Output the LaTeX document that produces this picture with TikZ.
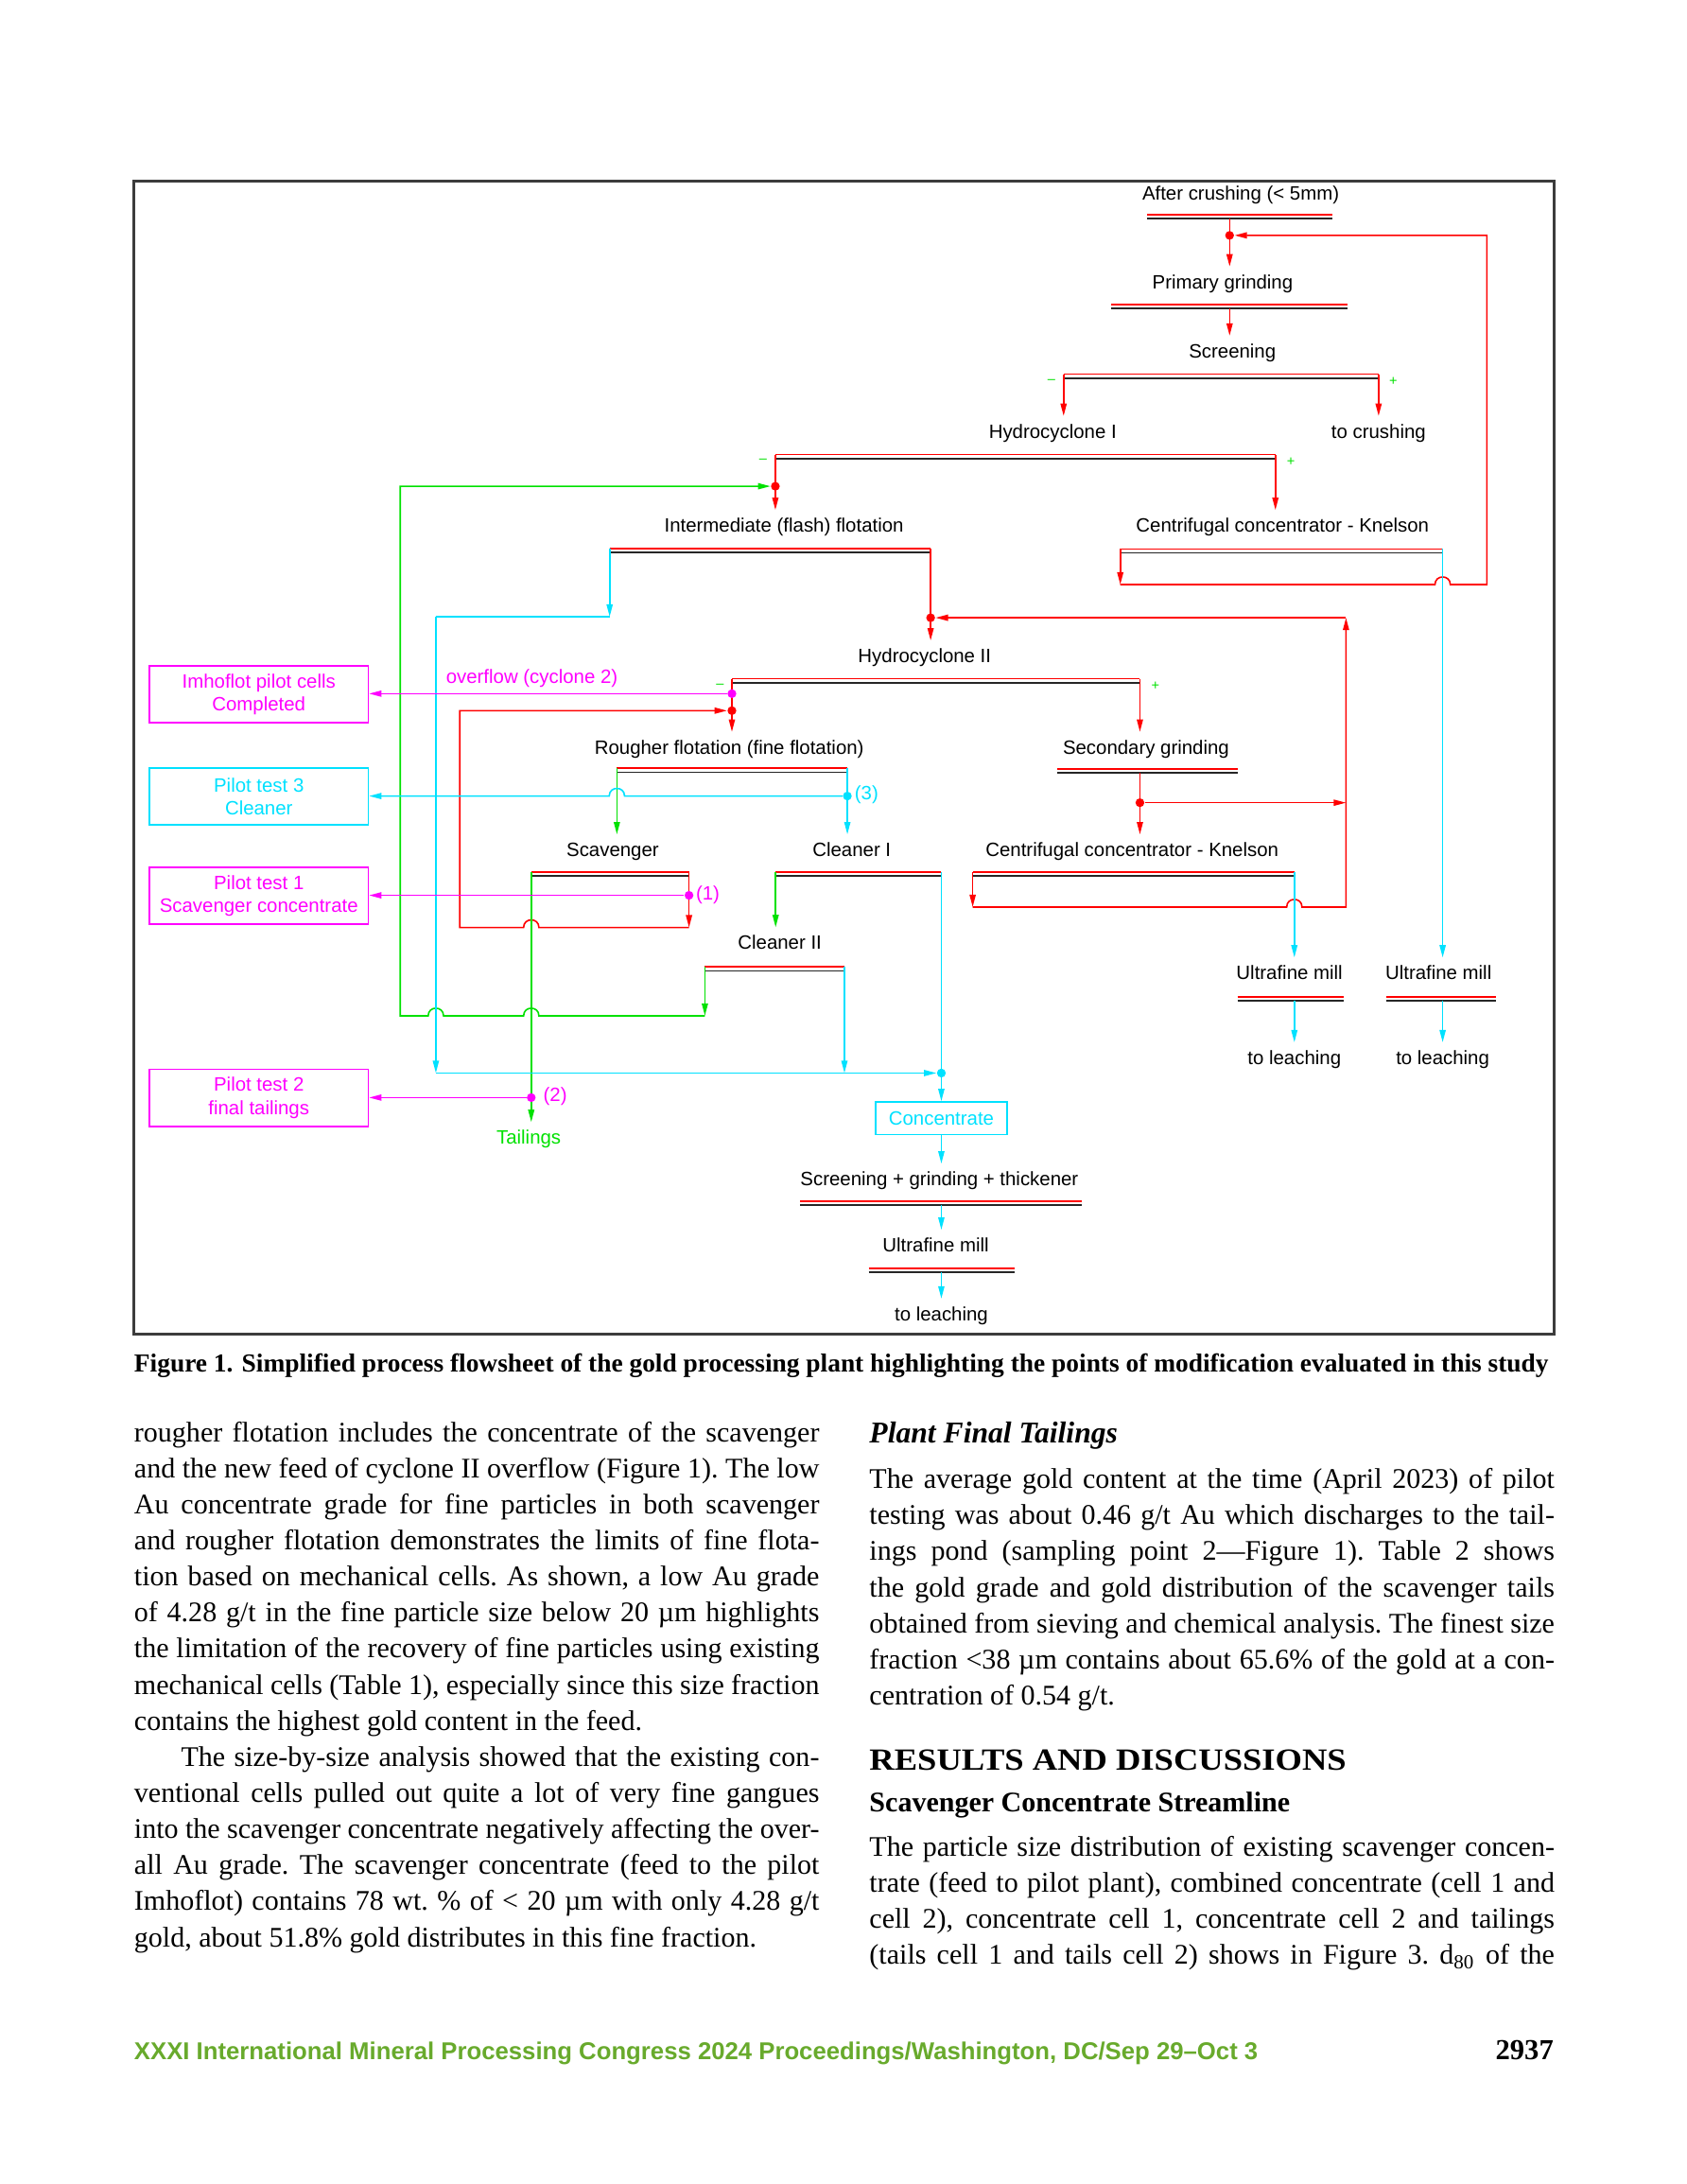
\documentclass[tikz,border=0pt]{standalone}
\usepackage{fontspec}
\usepackage{graphicx}
\setmainfont{Liberation Serif}
\newfontfamily\diafont{Liberation Sans}
\usetikzlibrary{arrows.meta,calc}
\definecolor{flred}{RGB}{255,0,0}
\definecolor{flgreen}{RGB}{0,225,0}
\definecolor{flcyan}{RGB}{0,225,255}
\definecolor{flmag}{RGB}{255,0,255}
\definecolor{footgreen}{RGB}{104,170,44}
\definecolor{framegray}{RGB}{60,60,60}

% double bar under a unit: name, x left, x right, y of the red line
\newcommand\flbar[4]{%
  \draw[barred] (#2,#4) -- (#3,#4);
  \draw[barblk] (#2,#4+2.8) -- (#3,#4+2.8);
  \coordinate (#1-l) at (#2,#4);
  \coordinate (#1-r) at (#3,#4);}

\begin{document}
\begin{tikzpicture}[
    x=0.5051pt, y=-0.5051pt,
    every node/.style={inner sep=0pt},
    lbl/.style={font=\diafont\fontsize{7}{8}\selectfont, text=#1, text height=5pt, text depth=1.5pt, inner sep=2.8pt},
    lbl/.default=black,
    pbox/.style={draw=#1, text=#1, line width=0.6pt, minimum width=79.35pt, minimum height=20.66pt, align=center, font=\diafont\fontsize{7}{8.3}\selectfont},
    sgn/.style={font=\diafont\fontsize{5}{5}\selectfont, text=flgreen},
    barred/.style={flred, line width=0.6pt},
    barblk/.style={black!85, line width=0.6pt},
    rl/.style={flred, line width=0.55pt},
    gl/.style={flgreen, line width=0.55pt},
    cl/.style={flcyan, line width=0.55pt},
    ml/.style={flmag, line width=0.55pt},
    arr/.style={-{Triangle[length=4.5pt,width=2.2pt]}},
    jpt/.style={circle, inner sep=0pt, minimum size=3.2pt},
    body/.style={anchor=base west, text width=248.5pt, align=justify, font=\fontsize{10.3}{13.08}\selectfont\frenchspacing}
]
\useasboundingbox (0,0) rectangle (1211,1568);

% Frame of the flowsheet
\draw[framegray, line width=1pt] (96,130) rectangle (1116,958);

% Junction points
\foreach \n/\x/\y in {dA/883/169, dB/556.8/349.1, dC/668.3/443.5, dD/525.6/498, dE/525.6/510.2,
    dF/608.5/571.5, dG/818.6/576.3, dH/494.8/642.8, dI/381.5/788, dJ/676/770.4}
  \node[jpt] (\n) at (\x,\y) {};

% Unit labels
\node[lbl] (act) at (891,140.3) {After crushing (< 5mm)};
\node[lbl] (primt) at (878,203.7) {Primary grinding};
\node[lbl] (scrt) at (885,253.4) {Screening};
\node[lbl] (hc1t) at (756,311) {Hydrocyclone I};
\node[lbl] (tocr) at (990,311) {to crushing};
\node[lbl] (flasht) at (563,378.5) {Intermediate (flash) flotation};
\node[lbl] (kn1t) at (921,378.5) {Centrifugal concentrator - Knelson};
\node[lbl] (hc2t) at (664,472.2) {Hydrocyclone II};
\node[lbl] (rought) at (523.7,537.8) {Rougher flotation (fine flotation)};
\node[lbl] (sect) at (823,537.8) {Secondary grinding};
\node[lbl] (scavt) at (440,611.4) {Scavenger};
\node[lbl] (cl1t) at (611.7,611.4) {Cleaner I};
\node[lbl] (kn2t) at (813,611.4) {Centrifugal concentrator - Knelson};
\node[lbl] (cl2t) at (560,678.1) {Cleaner II};
\node[lbl] (ufm1t) at (926,699.8) {Ultrafine mill};
\node[lbl] (ufm2t) at (1033,699.8) {Ultrafine mill};
\node[lbl] (leach1) at (929.5,760.7) {to leaching};
\node[lbl] (leach2) at (1036,760.7) {to leaching};
\node[lbl=flgreen] (tail) at (379.7,818) {Tailings};
\node[lbl] (sgtt) at (674.6,847.8) {Screening + grinding + thickener};
\node[lbl] (ufm3t) at (672,895.3) {Ultrafine mill};
\node[lbl] (leach3) at (676,944.7) {to leaching};
\node[lbl=flmag] (ovf) at (382,487) {overflow (cyclone 2)};
\node[lbl=flmag] (n1) at (508.3,642.6) {(1)};
\node[lbl=flmag] (n2) at (398.7,787.5) {(2)};
\node[lbl=flcyan] (n3) at (622.3,571) {(3)};

% Pilot test boxes
\node[pbox=flmag] (imho) at (185.9,498.4) {Imhoflot pilot cells\\Completed};
\node[pbox=flcyan] (p3) at (185.9,571.8) {Pilot test 3\\Cleaner};
\node[pbox=flmag] (p1) at (185.9,643.2) {Pilot test 1\\Scavenger concentrate};
\node[pbox=flmag] (p2) at (185.9,788.2) {Pilot test 2\\final tailings};
\node[draw=flcyan, text=flcyan, line width=0.6pt, minimum width=47.9pt, minimum height=11.8pt,
      font=\diafont\fontsize{7}{8}\selectfont] (conc) at (676,802.9) {Concentrate};

% Sign marks of the classifiers
\node[sgn] (s1) at (755,273.7) {–};
\node[sgn] (s2) at (1000.6,273.7) {+};
\node[sgn] (s3) at (548,331.3) {–};
\node[sgn] (s4) at (927,331.5) {+};
\node[sgn] (s5) at (517,492.6) {–};
\node[sgn] (s6) at (829.8,492.6) {+};

% Unit bars
\flbar{ac}{823.6}{956.6}{153.9}
\flbar{prim}{798}{967.6}{218.8}
\flbar{scr}{763.8}{990}{268.6}
\flbar{hc1}{556.8}{915.9}{326.3}
\flbar{flash}{437.8}{668.3}{393.7}
\flbar{kn1}{804.5}{1036}{394.2}
\flbar{hc2}{525.6}{818.6}{487.3}
\flbar{rough}{443}{608.5}{551.6}
\flbar{sec}{759}{888.9}{552}
\flbar{scav}{381.5}{494.8}{626}
\flbar{cl1}{557}{676}{626}
\flbar{kn2}{698.5}{929.5}{626}
\flbar{cl2}{506.2}{606.4}{694.2}
\flbar{ufm1}{888.6}{965}{715.5}
\flbar{ufm2}{995.6}{1074}{715.5}
\flbar{sgt}{574.7}{776.8}{862.5}
\flbar{ufm3}{623.8}{728.6}{910.5}
\coordinate (ac-m) at (883,156.7);
\coordinate (prim-m) at (883,221.6);
\coordinate (sec-m) at (818.6,554.8);
\coordinate (ufm1-m) at (929.5,718.3);
\coordinate (ufm2-m) at (1036,718.3);
\coordinate (sgt-m) at (676,865.3);
\coordinate (ufm3-m) at (676,913.3);

% Red streams
\draw[rl] (ac-m) -- (dA.center);
\draw[rl,arr] (dA.center) -- (primt.north -| dA);
\draw[rl,arr] (prim-m) -- (scrt.north -| prim-m);
\draw[rl,arr] (scr-l) -- (hc1t.north -| scr-l);
\draw[rl,arr] (scr-r) -- (tocr.north -| scr-r);
\draw[rl] (hc1-l) -- (dB.center);
\draw[rl,arr] (dB.center) -- (flasht.north -| dB);
\draw[rl,arr] (hc1-r) -- (kn1t.north -| hc1-r);
\coordinate (k1c) at (804.5,419.7);
\coordinate (k1e) at (1067.8,419.7);
\draw[rl,arr] (kn1-l) -- (k1c);
\draw[rl,arr] (k1c) -- (1030.5,419.7) .. controls (1030.5,412.4) and (1041.5,412.4) .. (1041.5,419.7)
    -- (k1e) |- (dA);
\draw[rl] (flash-r) -- (dC.center);
\draw[rl,arr] (dC.center) -- (hc2t.north -| dC);
\coordinate (k2c) at (698.5,651.2);
\coordinate (rb) at (966.6,651.2);
\coordinate (rt) at (966.6,443.5);
\coordinate (rm) at (966.6,576.3);
\draw[rl,arr] (kn2-l) -- (k2c);
\draw[rl,arr] (k2c) -- (924,651.2) .. controls (924,643.9) and (935,643.9) .. (935,651.2) -- (rb) -- (rt);
\draw[rl,arr] (rt) -- (dC);
\draw[rl] (hc2-l) -- (dE.center);
\draw[rl,arr] (dE.center) -- (rought.north -| dE);
\draw[rl,arr] (hc2-r) -- (sect.north -| hc2-r);
\draw[rl] (sec-m) -- (dG.center);
\draw[rl,arr] (dG.center) -- (kn2t.north -| dG);
\draw[rl,arr] (dG) -- (rm);
\coordinate (sc) at (494.8,665.9);
\coordinate (sl) at (330.2,665.9);
\draw[rl,arr] (scav-r) -- (sc);
\draw[rl,arr] (sc) -- (387,665.9) .. controls (387,658.6) and (376,658.6) .. (376,665.9) -- (sl) |- (dE);

% Green streams
\draw[gl,arr] (rough-l) -- (scavt.north -| rough-l);
\draw[gl,arr] (cl1-l) -- (cl2t.north -| cl1-l);
\coordinate (c2c) at (506.2,729.3);
\coordinate (gcorner) at (287.4,729.3);
\draw[gl,arr] (cl2-l) -- (c2c);
\draw[gl,arr] (c2c) -- (387,729.3) .. controls (387,722) and (376,722) .. (376,729.3)
    -- (318.5,729.3) .. controls (318.5,722) and (307.5,722) .. (307.5,729.3) -- (gcorner) |- (dB);
\draw[gl,arr] (scav-l) -- (tail.north -| scav-l);

% Cyan streams
\draw[cl,arr] (kn1-r) -- (ufm2t.north -| kn1-r);
\draw[cl,arr] (kn2-r) -- (ufm1t.north -| kn2-r);
\draw[cl,arr] (ufm1-m) -- (leach1.north -| ufm1-m);
\draw[cl,arr] (ufm2-m) -- (leach2.north -| ufm2-m);
\coordinate (fc) at (437.8,442.8);
\coordinate (fl) at (313,442.8);
\coordinate (fb) at (313,770.4);
\draw[cl,arr] (flash-l) -- (fc);
\draw[cl] (fc) -- (fl);
\draw[cl,arr] (fl) -- (fb);
\draw[cl,arr] (fb) -- (dJ);
\draw[cl] (rough-r) -- (dF.center);
\draw[cl,arr] (dF.center) -- (cl1t.north -| dF);
\draw[cl,arr] (dF) -- (448.5,571.5) .. controls (448.5,564.2) and (437.5,564.2) .. (437.5,571.5) -- (p3.east |- dF);
\draw[cl] (cl1-r) -- (dJ.center);
\draw[cl,arr] (dJ.center) -- (conc.north);
\coordinate (c2b) at (606.4,770.4);
\draw[cl,arr] (cl2-r) -- (c2b);
\draw[cl,arr] (conc.south) -- (conc.south |- sgtt.north);
\draw[cl,arr] (sgt-m) -- (ufm3t.north -| sgt-m);
\draw[cl,arr] (ufm3-m) -- (leach3.north -| ufm3-m);

% Sampling points to pilot tests
\draw[ml,arr] (dD) -- (imho.east |- dD);
\draw[ml,arr] (dH) -- (p1.east |- dH);
\draw[ml,arr] (dI) -- (p2.east |- dI);

% Junction dots on top
\foreach \n/\c in {dA/flred, dB/flred, dC/flred, dD/flmag, dE/flred, dF/flcyan, dG/flred, dH/flmag, dI/flmag, dJ/flcyan}
  \fill[\c] (\n.center) circle (1.6pt);

% Caption
\node[anchor=base west] (cap) at (96,985) {\resizebox{513pt}{!}{\fontsize{10}{12}\selectfont\bfseries Figure 1. Simplified process flowsheet of the gold processing plant highlighting the points of modification evaluated in this study}};

% Left column
\node[body] (colL) at (96,1035) {\parindent=0pt\parskip=0pt\hyphenpenalty=10000\exhyphenpenalty=10000\tolerance=10000
rougher flotation includes the concentrate of the scavenger\linebreak
and the new feed of cyclone II overflow (Figure 1). The low\linebreak
Au concentrate grade for fine particles in both scavenger\linebreak
and rougher flotation demonstrates the limits of fine flota-\linebreak
tion based on mechanical cells. As shown, a low Au grade\linebreak
of 4.28 g/t in the fine particle size below 20 µm highlights\linebreak
the limitation of the recovery of fine particles using existing\linebreak
mechanical cells (Table 1), especially since this size fraction\linebreak
contains the highest gold content in the feed.\par
\hspace*{17pt}The size-by-size analysis showed that the existing con-\linebreak
ventional cells pulled out quite a lot of very fine gangues\linebreak
into the scavenger concentrate negatively affecting the over-\linebreak
all Au grade. The scavenger concentrate (feed to the pilot\linebreak
Imhoflot) contains 78 wt. \% of < 20 µm with only 4.28 g/t\linebreak
gold, about 51.8\% gold distributes in this fine fraction.};

% Right column
\node[anchor=base west] (hPlant) at (624,1036) {\resizebox{90pt}{7.6pt}{\fontsize{11}{12}\selectfont\bfseries\itshape Plant Final Tailings}};
\node[body] (colR1) at (624,1068.6) {\parindent=0pt\parskip=0pt\hyphenpenalty=10000\exhyphenpenalty=10000\tolerance=10000
The average gold content at the time (April 2023) of pilot\linebreak
testing was about 0.46 g/t Au which discharges to the tail-\linebreak
ings pond (sampling point 2—Figure 1). Table 2 shows\linebreak
the gold grade and gold distribution of the scavenger tails\linebreak
obtained from sieving and chemical analysis. The finest size\linebreak
fraction <38 µm contains about 65.6\% of the gold at a con-\linebreak
centration of 0.54 g/t.};
\node[anchor=base west] (hRes) at (624,1271) {\resizebox{173pt}{7.4pt}{\fontsize{12}{14}\selectfont\bfseries RESULTS AND DISCUSSIONS}};
\node[anchor=base west] (hScav) at (624,1301) {\resizebox{152.5pt}{!}{\fontsize{10.5}{12}\selectfont\bfseries Scavenger Concentrate Streamline}};
\node[body] (colR2) at (624,1332.6) {\parindent=0pt\parskip=0pt\hyphenpenalty=10000\exhyphenpenalty=10000\tolerance=10000\parfillskip=0pt
The particle size distribution of existing scavenger concen-\linebreak
trate (feed to pilot plant), combined concentrate (cell 1 and\linebreak
cell 2), concentrate cell 1, concentrate cell 2 and tailings\linebreak
(tails cell 1 and tails cell 2) shows in Figure 3. d\textsubscript{80} of the\par};

% Footer
\node[anchor=base west] (foot) at (96,1479) {\resizebox{407.6pt}{!}{\diafont\fontsize{9}{11}\selectfont\bfseries\color{footgreen}XXXI International Mineral Processing Congress 2024 Proceedings/Washington, DC/Sep 29–Oct 3}};
\node[anchor=base east, font=\fontsize{10.5}{12}\selectfont\bfseries] (pageno) at (1116,1479) {2937};

\end{tikzpicture}
\end{document}
